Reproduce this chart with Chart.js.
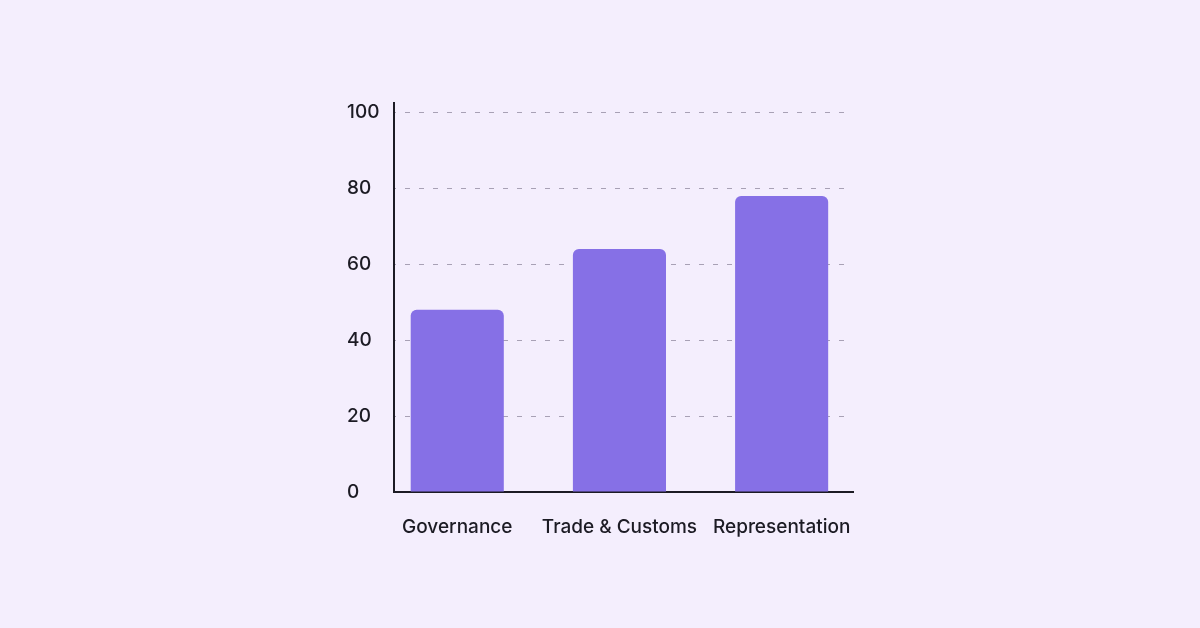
<!DOCTYPE html>
<html>
<head>
<meta charset="utf-8">
<script src="https://cdn.jsdelivr.net/npm/chart.js@4"></script>
<style>
  html, body { margin: 0; padding: 0; background: #F4EEFD; }
  #wrap { width: 1200px; height: 628px; position: relative; }
</style>
</head>
<body>
<div id="wrap"><canvas id="c"></canvas></div>
<script>
const categories = ["Governance", "Trade & Customs", "Representation"];
const values = [48, 64, 78];
const yTicks = [0, 20, 40, 60, 80, 100];

const points = categories.map((c, i) => ({ x: i, y: values[i] }));

const ctx = document.getElementById('c');
new Chart(ctx, {
  type: 'bar',
  data: {
    datasets: [{
      data: points,
      backgroundColor: '#8670E6',
      borderRadius: 6,
      categoryPercentage: 1,
      barPercentage: 0.574
    }]
  },
  options: {
    responsive: true,
    maintainAspectRatio: false,
    animation: false,
    devicePixelRatio: 1,
    layout: { padding: { left: 347, right: 347, top: 103, bottom: 0 } },
    plugins: { legend: { display: false }, tooltip: { enabled: false } },
    scales: {
      x: {
        type: 'linear',
        offset: false,
        min: -0.39,
        max: 2.44,
        afterBuildTicks: (axis) => {
          axis.ticks = categories.map((c, i) => ({ value: i }));
        },
        grid: { display: false, drawTicks: false, offset: false },
        border: { display: true, color: '#1c1b24', width: 2 },
        ticks: {
          color: '#1c1b24',
          font: { family: 'Inter', size: 19, weight: 500 },
          padding: 24,
          maxRotation: 0,
          autoSkip: false,
          callback: (v) => categories[v]
        },
        afterFit: (s) => { s.height = 136; }
      },
      y: {
        min: 0,
        max: 102.5,
        afterBuildTicks: (axis) => {
          axis.ticks = yTicks.map(v => ({ value: v }));
        },
        grid: { color: '#A8A1B5', lineWidth: 1, drawTicks: false },
        border: { display: true, color: '#1c1b24', width: 2, dash: [5, 9], dashOffset: -10 },
        ticks: {
          color: '#1c1b24',
          font: { family: 'Inter', size: 19, weight: 500 },
          crossAlign: 'far',
          padding: 0
        },
        afterFit: (s) => { s.width = 47; }
      }
    }
  }
});
</script>
</body>
</html>
